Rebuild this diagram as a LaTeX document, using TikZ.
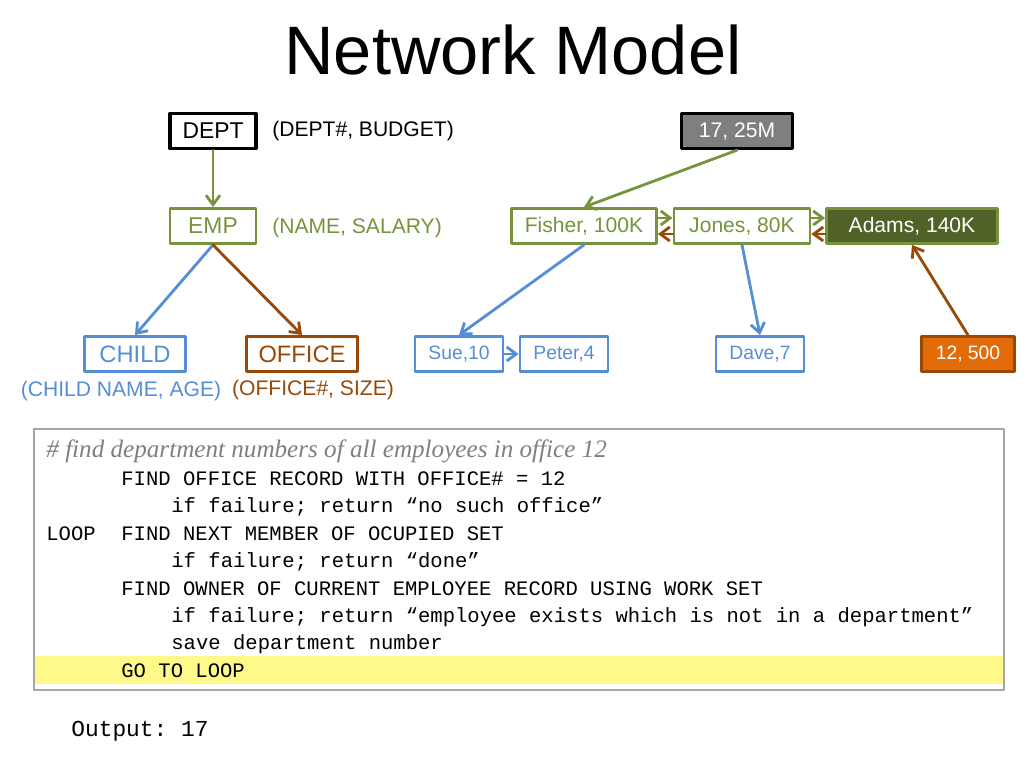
\documentclass[tikz,border=0pt]{standalone}
\usepackage{fontspec}
\setmainfont{Liberation Sans}
\newfontfamily\codefont{Liberation Mono}
\newfontfamily\commentfont{Liberation Serif}
\usetikzlibrary{arrows.meta}
\definecolor{empgreen}{HTML}{77933C}
\definecolor{darkgreen}{HTML}{4F6228}
\definecolor{childblue}{HTML}{558ED5}
\definecolor{officebrown}{HTML}{984807}
\definecolor{officeorange}{HTML}{E36C09}
\definecolor{recgray}{HTML}{7F7F7F}
\definecolor{framegray}{HTML}{A6A6A6}
\definecolor{hilite}{HTML}{FFF98A}
\begin{document}
\begin{tikzpicture}[x=0.2mm,y=-0.2mm,line join=round,line cap=round,>={Straight Barb[length=1.9mm,width=2.8mm]},line width=1.6pt]
	\tikzset{rec/.style={draw,line cap=butt,inner sep=0pt,minimum height=7mm,font=\fontsize{12}{14}\selectfont},
		schema/.style={rec,font=\fontsize{13.5}{16}\selectfont},
		attr/.style={font=\fontsize{12}{14}\selectfont},
		codeline/.style={anchor=base west,inner sep=0pt,font=\codefont\fontsize{11.7}{14}\selectfont\frenchspacing}}
	\useasboundingbox (0,0) rectangle (1024,768);
	\node[anchor=base,font=\fontsize{39}{44}\selectfont] (title) at (513,75) {Network Model};
	% schema
	\node[schema,minimum width=17.2mm,draw=black,line width=1.9pt,font=\fontsize{13}{16}\selectfont] (dept) at (213,131) {DEPT};
	\node[attr,anchor=west] (deptattr) at (265,131) {(DEPT\#, BUDGET)};
	\node[schema,minimum width=17.2mm,draw=empgreen,text=empgreen,font=\fontsize{13}{16}\selectfont] (emp) at (213,226) {EMP};
	\node[attr,anchor=west,text=empgreen] (empattr) at (265,228) {(NAME, SALARY)};
	\node[schema,minimum width=20.2mm,draw=childblue,text=childblue] (child) at (135,354) {CHILD};
	\node[attr,text=childblue] (childattr) at (121,391) {(CHILD NAME, AGE)};
	\node[schema,minimum width=22.2mm,draw=officebrown,text=officebrown] (office) at (302,354) {OFFICE};
	\node[attr,text=officebrown] (officeattr) at (313,390) {(OFFICE\#, SIZE)};
	\draw[->,empgreen] (dept) -- (emp);
	\draw[->,childblue] (emp.south) -- (child.north);
	\draw[->,officebrown] (emp.south) -- (office.north);
	% records
	\node[rec,minimum width=22.2mm,draw=black,line width=1.9pt,fill=recgray,text=white] (d17) at (737,131) {17, 25M};
	\node[rec,minimum width=29mm,draw=empgreen,text=empgreen] (fisher) at (584,226) {Fisher, 100K};
	\node[rec,minimum width=27.2mm,draw=empgreen,text=empgreen] (jones) at (742,226) {Jones, 80K};
	\node[rec,minimum width=34.2mm,draw=empgreen,fill=darkgreen,text=white] (adams) at (912,226) {Adams, 140K};
	\node[rec,minimum width=17.6mm,draw=childblue,text=childblue,font=\fontsize{11}{13}\selectfont] (sue) at (459,354) {Sue,10};
	\node[rec,minimum width=17.6mm,draw=childblue,text=childblue,font=\fontsize{11}{13}\selectfont] (peter) at (564,354) {Peter,4};
	\node[rec,minimum width=17.6mm,draw=childblue,text=childblue,font=\fontsize{11}{13}\selectfont] (dave) at (760,354) {Dave,7};
	\node[rec,minimum width=18.6mm,draw=officebrown,fill=officeorange,text=white,font=\fontsize{11}{13}\selectfont] (o12) at (968,354) {12, 500};
	\draw[->,empgreen] (d17.south) -- (fisher.north);
	\draw[->,empgreen] ([yshift=1.6mm]fisher.east) -- ([yshift=1.6mm]jones.west);
	\draw[->,officebrown] ([yshift=-1.6mm]jones.west) -- ([yshift=-1.6mm]fisher.east);
	\draw[->,empgreen] ([yshift=1.6mm]jones.east) -- ([yshift=1.6mm]adams.west);
	\draw[->,officebrown] ([yshift=-1.6mm]adams.west) -- ([yshift=-1.6mm]jones.east);
	\draw[->,childblue] (fisher.south) -- (sue.north);
	\draw[->,childblue] (sue) -- (peter);
	\draw[->,childblue] (jones.south) -- (dave.north);
	\draw[->,officebrown] (o12.north) -- (adams.south);
	% query
	\fill[hilite] (35,656) rectangle (1003,684);
	\draw[framegray,line width=0.8pt] (34,429) rectangle (1004,690);
	\node[anchor=base west,inner sep=0pt,text=recgray,font=\commentfont\itshape\fontsize{14.3}{17}\selectfont] (comment) at (45,458) {\# find department numbers of all employees in office 12};
	\node[codeline] (q1) at (120,486) {FIND OFFICE RECORD WITH OFFICE\# = 12};
	\node[codeline] (q2) at (170,513) {if failure; return “no such office”};
	\node[codeline] (loop) at (45,541) {LOOP};
	\node[codeline] (q3) at (120,541) {FIND NEXT MEMBER OF OCUPIED SET};
	\node[codeline] (q4) at (170,568) {if failure; return “done”};
	\node[codeline] (q5) at (120,596) {FIND OWNER OF CURRENT EMPLOYEE RECORD USING WORK SET};
	\node[codeline] (q6) at (170,623) {if failure; return “employee exists which is not in a department”};
	\node[codeline] (q7) at (170,650) {save department number};
	\node[codeline] (q8) at (120,678) {GO TO LOOP};
	\node[codeline,font=\codefont\fontsize{13}{15}\selectfont\frenchspacing] (output) at (70,737) {Output: 17};
\end{tikzpicture}
\end{document}
